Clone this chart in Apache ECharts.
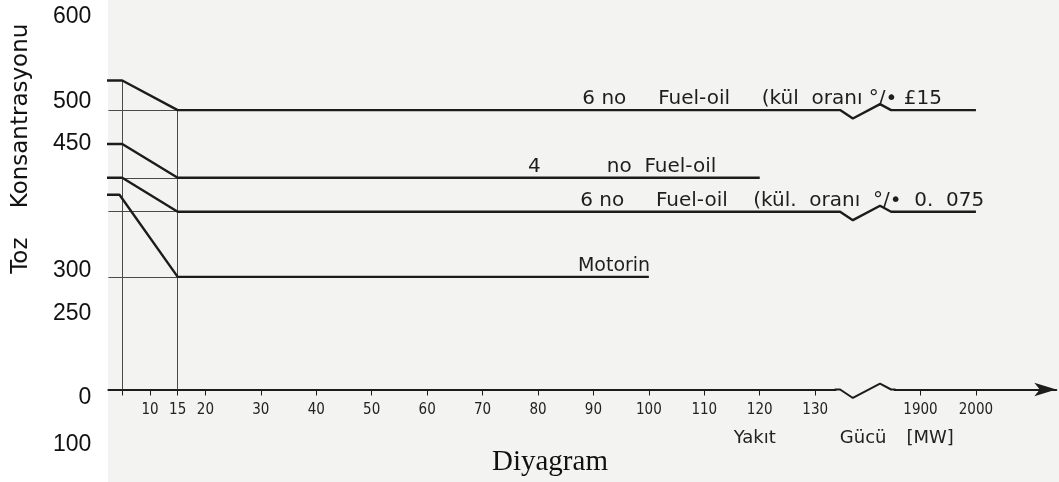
<!DOCTYPE html>
<html><head><meta charset="utf-8">
<script src="https://cdn.jsdelivr.net/npm/echarts@6/dist/echarts.min.js"></script>
<style>html,body{margin:0;padding:0;background:#fff}#c{width:1059px;height:482px}</style>
</head><body><div id="c"></div>
<script>
// ---- data (x: Yakıt Gücü [MW], y: Toz Konsantrasyonu) ----
const xTickValues = [10,15,20,30,40,50,60,70,80,90,100,110,120,130,1900,2000];
const xMinorTicks = [5];
const yTickValues = [600,500,450,300,250];
const yBaseLabel = '0';
const yExtraLabel = '100';
const seriesNames = ['6 no Fuel-oil (0.15)','4 no Fuel-oil','6 no Fuel-oil (0.075)','Motorin'];
const fuel6High = [[0,525],[5,525],[15,490],[2000,490]];
const fuel4     = [[0,450],[5,450],[15,410],[120,410]];
const fuel6Low  = [[0,410],[5,410],[15,370],[2000,370]];
const motorin   = [[0,390],[4.5,390],[15,293],[100,293]];
const seriesLabels = [
  '6 no     Fuel-oil     (kül  oranı °/• £15',
  '{a|4}{b|no  Fuel-oil}',
  '6 no     Fuel-oil    (kül.  oranı  °/•  0.  075',
  'Motorin'
];

// ---- broken x axis: 0..140 MW linear, then 1900.. compressed ----
const XMIN = 2.5, XMAX = 173.5, YMIN = 160, YMAX = 620;
function toPos(mw){ return mw <= 140 ? mw : 149 + (mw - 1900) / 10; }
function fromPos(p){ return p <= 140 ? Math.round(p) : Math.round(1900 + (p - 149) * 10); }
const ZIG = [[134.5,0],[136.8,-10],[141.7,7],[143.7,0]];
function build(pts){
  const out = [];
  pts.forEach(([x,y],i)=>{
    if(i>0 && pts[i-1][0] < 140 && x > 1000){ ZIG.forEach(([p,dy])=>out.push([p, y+dy])); }
    out.push([toPos(x), y]);
  });
  return out;
}
const INK = '#1c1c1c', THIN = '#4a4a4a', BG = '#f3f3f1';
const lineFont = 'DejaVu Sans';
const txt = {color:'#1e1e1e', fontFamily:lineFont, fontSize:20};

const all = [fuel6High, fuel4, fuel6Low, motorin];
const labelStart = [88, 78.2, 87.6, 87.2];
const labelSize = [20, 20, 20, 19];
const series = all.map((pts,i)=>{
  const level = pts[pts.length-1][1];
  return {
    name: seriesNames[i], type:'line', data: build(pts), symbol:'none',
    lineStyle:{color:INK, width:2.4}, z:5,
    markLine:{silent:true, symbol:'none', label:{show:false},
      lineStyle:{color:THIN, width:1, type:'solid'},
      data:[[{coord:[XMIN, level]},{coord:[toPos(15), level]}]]},
    markPoint:{symbol:'circle', symbolSize:0, silent:true,
      data:[{coord:[labelStart[i], level], label:Object.assign({show:true, position:'right', distance:0, offset:[0,-11],
        formatter: seriesLabels[i]}, txt, {fontSize:labelSize[i],
        rich:{a:txt, b:Object.assign({}, txt, {padding:[0,0,0,66]})}})}]}
  };
});
// vertical guide lines at 5 and 15
series[0].markLine.data.push(
  [{coord:[toPos(5), YMIN]},{coord:[toPos(5), fuel6High[0][1]]}],
  [{coord:[toPos(15), YMIN]},{coord:[toPos(15), fuel6High[2][1]]}]
);
// axis break mask + zigzag on the x axis
series.push({type:'line', silent:true, symbol:'none', clip:false, z:6,
  data:[[133.8,YMIN],[144.2,YMIN]], lineStyle:{color:BG, width:5}});
series.push({type:'line', silent:true, symbol:'none', clip:false, z:7,
  data:[[133.5,YMIN]].concat(ZIG.map(([p,dy])=>[p, YMIN+dy])).concat([[144.5,YMIN]]),
  lineStyle:{color:INK, width:2}});

const chart = echarts.init(document.getElementById('c'), null, {renderer:'canvas'});
chart.setOption({
  animation:false,
  backgroundColor:'#ffffff',
  graphic:[{type:'rect', z:-10, silent:true, shape:{x:108, y:0, width:951, height:482}, style:{fill:BG}}],
  title:{text:'Diyagram', left:492, top:448, padding:0,
    textStyle:{fontFamily:'Liberation Serif', fontSize:29, fontWeight:'normal', color:'#111'}},
  grid:{left:108.4, right:2.7, top:0, bottom:92.5, containLabel:false},
  xAxis:{type:'value', min:XMIN, max:XMAX,
    name:'{a|Yakıt}{b|Gücü}{c|[MW]}', nameLocation:'middle', nameGap:40,
    nameTextStyle:{padding:[0,0,0,523], rich:{
      a:{fontFamily:lineFont,fontSize:18,color:'#222'},
      b:{fontFamily:lineFont,fontSize:18,color:'#222',padding:[0,0,0,64]},
      c:{fontFamily:lineFont,fontSize:18,color:'#222',padding:[0,0,0,20]}}},
    axisLine:{show:true, lineStyle:{color:INK, width:2}, symbol:['none','arrow'], symbolSize:[10,22]},
    axisTick:{show:true, customValues: xMinorTicks.concat(xTickValues).map(toPos), length:6, lineStyle:{color:INK,width:1}},
    axisLabel:{customValues: xTickValues.map(toPos), formatter:v=>String(fromPos(v)), margin:13,
      fontFamily:'DejaVu Sans Condensed', fontSize:15, color:'#222'},
    splitLine:{show:false}},
  yAxis:[{type:'value', min:YMIN, max:YMAX, position:'left',
    name:yExtraLabel, nameLocation:'start', nameGap:44,
    nameTextStyle:{fontFamily:'Liberation Sans', fontSize:23, color:'#111', align:'right', padding:[0,17,0,0]},
    axisLine:{show:false}, axisTick:{show:false}, splitLine:{show:false},
    axisLabel:{customValues: yTickValues.concat([YMIN]), margin:17,
      formatter:v=> v===YMIN ? '{z|'+yBaseLabel+'}' : String(v),
      fontFamily:'Liberation Sans', fontSize:23, color:'#111',
      rich:{z:{fontFamily:'Liberation Sans', fontSize:23, color:'#111', padding:[16,0,0,0]}}}},
   {type:'value', min:YMIN, max:YMAX, position:'left',
    name:'Toz    Konsantrasyonu', nameLocation:'middle', nameRotate:90, nameGap:76,
    nameTextStyle:{fontFamily:'DejaVu Sans', fontSize:23, color:'#111', padding:[0,0,0,92]},
    axisLine:{show:false}, axisTick:{show:false}, axisLabel:{show:false}, splitLine:{show:false}}],
  series: series
});
</script></body></html>
